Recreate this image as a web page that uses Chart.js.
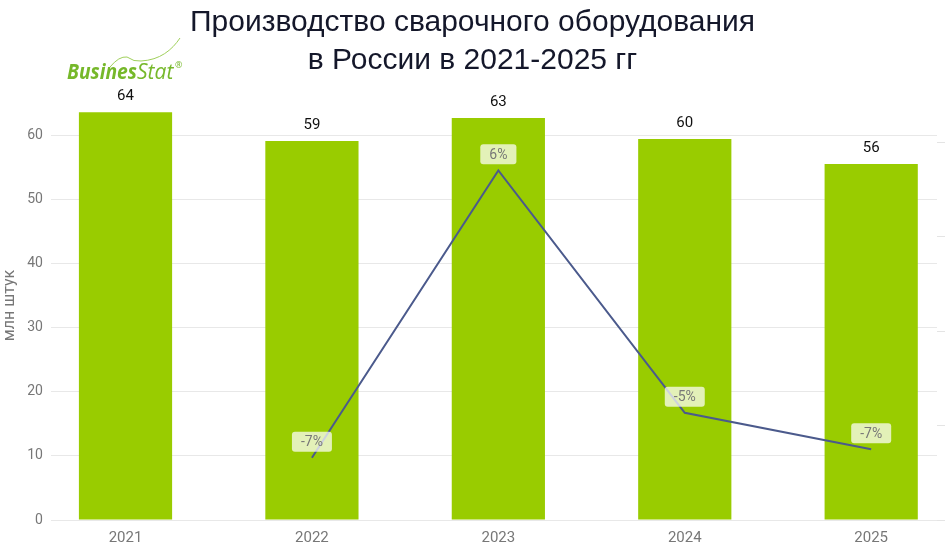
<!DOCTYPE html>
<html>
<head>
<meta charset="utf-8">
<script src="https://cdn.jsdelivr.net/npm/chart.js@4.4.1/dist/chart.umd.min.js"></script>
<style>
html, body { margin: 0; padding: 0; background: #fff; }
#wrap { width: 946px; height: 560px; }
</style>
</head>
<body>
<div id="wrap"><canvas id="mycanvas"></canvas></div>
<script>
// data
var years = ['2021', '2022', '2023', '2024', '2025'];
var output = [63.7, 59.2, 62.8, 59.5, 55.6];          // млн штук
var outputLabels = ['64', '59', '63', '60', '56'];
var growth = [null, -7.1, 6.3, -5.0, -6.7];            // % к предыдущему году
var growthLabels = ['', '-7%', '6%', '-5%', '-7%'];
var yTicks = [0, 10, 20, 30, 40, 50, 60];

var labelPlugin = {
	id: 'valueLabels',
	afterDatasetsDraw: function(chart) {
		var ctx = chart.ctx;
		ctx.save();
		ctx.textAlign = 'center';

		// numbers over bars
		ctx.font = '15px Roboto';
		ctx.fillStyle = '#111';
		ctx.textBaseline = 'bottom';
		chart.getDatasetMeta(0).data.forEach(function(bar, i) {
			ctx.fillText(outputLabels[i], bar.x, bar.y - 8);
		});

		// growth boxes over line points
		ctx.font = '14px Roboto';
		ctx.textBaseline = 'middle';
		chart.getDatasetMeta(1).data.forEach(function(pt, i) {
			if (growth[i] === null) return;
			var t = growthLabels[i];
			var w = ctx.measureText(t).width + 18;
			var h = 20;
			var cy = pt.y - 16;
			ctx.fillStyle = 'rgba(255,255,255,0.72)';
			ctx.beginPath();
			ctx.roundRect(pt.x - w / 2, cy - h / 2, w, h, 3);
			ctx.fill();
			ctx.fillStyle = '#777';
			ctx.fillText(t, pt.x, cy + 1);
		});
		ctx.restore();
	}
};

var logoPlugin = {
	id: 'logo',
	afterDraw: function(chart) {
		var ctx = chart.ctx;
		ctx.save();
		ctx.strokeStyle = '#9fcf5a';
		ctx.lineWidth = 1;
		ctx.beginPath();
		ctx.moveTo(110, 67);
		ctx.quadraticCurveTo(119, 56, 127, 57);
		ctx.quadraticCurveTo(134, 62, 141, 61);
		ctx.bezierCurveTo(160, 60, 172, 50, 180, 38);
		ctx.stroke();

		ctx.fillStyle = '#76b82a';
		ctx.textBaseline = 'alphabetic';
		ctx.textAlign = 'left';
		ctx.font = 'italic bold 21px "Open Sans"';
		ctx.fillText('Busines', 67, 79, 70);
		ctx.font = 'italic 21px "Open Sans"';
		ctx.fillText('Stat', 137, 79, 38);
		ctx.font = '9px "Open Sans"';
		ctx.fillText('®', 175, 68);
		ctx.restore();
	}
};

var ctx = document.getElementById('mycanvas');

var chart = new Chart(ctx, {
	data: {
		labels: years,
		datasets: [
			{
				type: 'bar',
				data: output,
				backgroundColor: '#99cc00',
				categoryPercentage: 1,
				barPercentage: 0.5,
				yAxisID: 'y',
				order: 2
			},
			{
				type: 'line',
				data: growth,
				borderColor: '#4b5a8c',
				borderWidth: 2,
				pointRadius: 0,
				tension: 0,
				yAxisID: 'y1',
				order: 1
			}
		]
	},
	options: {
		responsive: true,
		maintainAspectRatio: false,
		animation: false,
		layout: { padding: { left: 0, right: 1, top: 0, bottom: 4 } },
		plugins: {
			legend: { display: false },
			tooltip: { enabled: false },
			title: {
				display: true,
				text: ['Производство сварочного оборудования', 'в России в 2021-2025 гг'],
				color: '#14172a',
				font: { family: '"Liberation Sans"', size: 30, weight: 'normal', lineHeight: 1.25 },
				padding: { top: 4, bottom: 12 }
			}
		},
		scales: {
			x: {
				type: 'linear',
				min: 2020.6,
				max: 2025.353,
				offset: false,
				grid: { display: false, drawTicks: false },
				border: { display: false },
				afterBuildTicks: function(s) {
					s.ticks = years.map(function(y) { return { value: +y }; });
				},
				ticks: {
					padding: 9,
					color: '#777',
					font: { family: 'Roboto', size: 15 },
					callback: function(v) { return String(v); }
				}
			},
			y: {
				position: 'left',
				min: 0,
				max: 67,
				afterBuildTicks: function(s) {
					s.ticks = yTicks.map(function(v) { return { value: v }; });
				},
				grid: { color: '#e8e8e8', drawTicks: false },
				border: { display: false },
				ticks: {
					padding: 8,
					color: '#777',
					font: { family: 'Roboto', size: 14 }
				},
				title: {
					display: true,
					text: 'млн штук',
					color: '#777',
					font: { family: 'Roboto', size: 16 },
					padding: { top: 0, bottom: 0 }
				}
			},
			y1: {
				position: 'right',
				min: -10,
				max: 10,
				afterBuildTicks: function(s) {
					var t = [];
					for (var v = s.min; v < s.max - 1; v += 4.4) t.push({ value: v });
					s.ticks = t;
				},
				grid: { drawOnChartArea: false, tickLength: 8, color: '#e4e4e4' },
				border: { display: false },
				ticks: { display: false }
			}
		}
	},
	plugins: [labelPlugin, logoPlugin]
});
</script>
</body>
</html>
